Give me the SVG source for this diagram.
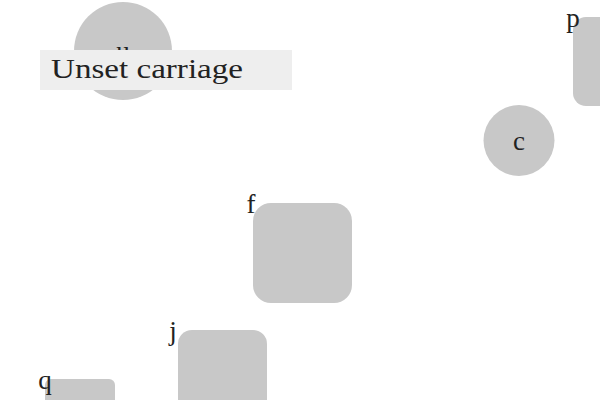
<svg xmlns="http://www.w3.org/2000/svg" width="600" height="400" viewBox="0 0 600 400">
<style>
.node{fill:#c8c8c8}
.lbl{font-family:"Liberation Serif","DejaVu Serif",serif;font-size:27px;fill:#222}
.tip{fill:#eeeeee}
</style>
<rect width="600" height="400" fill="#ffffff"/>
<g id="connectors"></g>
<g id="node-u">
<circle class="node" cx="123" cy="51" r="49"/>
<text class="lbl" x="123" y="60" text-anchor="middle">u</text>
</g>
<g id="node-p">
<rect class="node" x="573" y="17" width="60" height="89" rx="13"/>
<text class="lbl" x="573" y="27" text-anchor="middle">p</text>
</g>
<g id="node-c">
<circle class="node" cx="519" cy="140.5" r="35.5"/>
<text class="lbl" x="519" y="150" text-anchor="middle">c</text>
</g>
<g id="node-f">
<rect class="node" x="253" y="203" width="99" height="100" rx="18"/>
<text class="lbl" x="251" y="213" text-anchor="middle">f</text>
</g>
<g id="node-j">
<rect class="node" x="178" y="330" width="89" height="100" rx="14"/>
<text class="lbl" x="173" y="340" text-anchor="middle">j</text>
</g>
<g id="node-q">
<rect class="node" x="45" y="379" width="70" height="50" rx="6"/>
<text class="lbl" x="45" y="389" text-anchor="middle">q</text>
</g>
<g id="tooltip">
<rect class="tip" x="40" y="50" width="252" height="40"/>
<text class="lbl" x="51" y="78" textLength="192" lengthAdjust="spacingAndGlyphs">Unset carriage</text>
</g>
</svg>
